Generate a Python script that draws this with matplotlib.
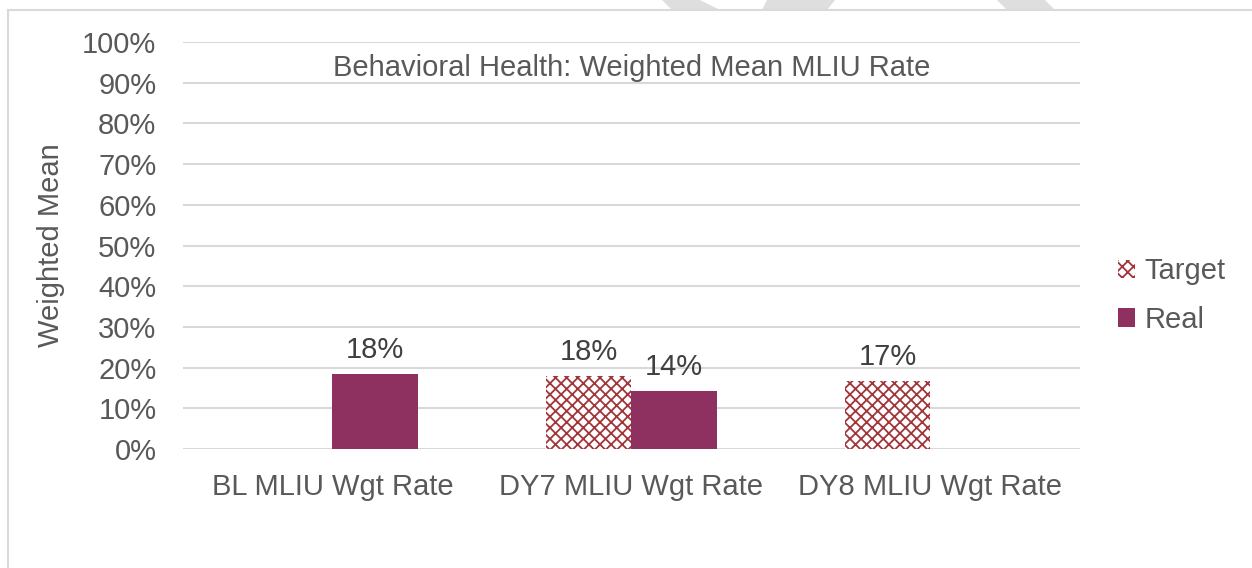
import numpy as np
import matplotlib
matplotlib.use('Agg')
import matplotlib.pyplot as plt
from matplotlib.patches import Polygon, Rectangle, Patch

plt.rcParams['font.family'] = ['Liberation Sans', 'DejaVu Sans']
plt.rcParams['hatch.linewidth'] = 1.3

# data
categories = ['BL MLIU Wgt Rate', 'DY7 MLIU Wgt Rate', 'DY8 MLIU Wgt Rate']
target = [np.nan, 0.18, 0.167]
real = [0.184, 0.143, np.nan]
title = 'Behavioral Health: Weighted Mean MLIU Rate'

real_color = '#8E3060'
hatch_color = '#A0353A'
text_color = '#595959'
grid_color = '#D9D9D9'
fs = 21

fig = plt.figure(figsize=(12.52, 5.68), dpi=100)
ax = fig.add_axes([0.146, 0.2095, 0.7166, 0.7165])

# chart border and faint watermark above it
fig.patches.append(Rectangle((8 / 1252, -0.1), 1.2, 558 / 568 + 0.1,
                             transform=fig.transFigure, fill=False,
                             edgecolor=grid_color, linewidth=1.5))
wm = [[(662, 0), (700, 0), (720, 10), (672, 10)],
      [(767, 0), (835, 0), (827, 10), (762, 10)],
      [(997, 0), (1045, 0), (1055, 10), (1007, 10)]]
for pts in wm:
    fig.patches.append(Polygon([(x / 1252, 1 - y / 568) for x, y in pts],
                               closed=True, transform=fig.transFigure,
                               facecolor='#DEDEDE', edgecolor='none', zorder=0))

x = np.arange(len(categories))
w = 0.285
ax.bar(x - w / 2, target, w, facecolor='white', edgecolor=hatch_color,
       hatch='xxx', linewidth=0, label='Target', zorder=3)
ax.bar(x + w / 2, real, w, color=real_color, label='Real', zorder=3)

for i in range(len(categories)):
    if not np.isnan(target[i]):
        ax.text(x[i] - w / 2, target[i] + 0.025, f'{target[i]:.0%}',
                ha='center', va='bottom', fontsize=fs, color='#404040')
    if not np.isnan(real[i]):
        ax.text(x[i] + w / 2, real[i] + 0.025, f'{real[i]:.0%}',
                ha='center', va='bottom', fontsize=fs, color='#404040')

ax.set_xlim(-0.5, 2.5)
ax.set_ylim(0, 1)
ax.set_yticks(np.arange(0, 1.01, 0.1))
ax.set_yticklabels([f'{v:.0%}' for v in np.arange(0, 1.01, 0.1)])
ax.set_xticks(x)
ax.set_xticklabels(categories)
ax.tick_params(axis='both', length=0, labelsize=fs, colors=text_color)
ax.tick_params(axis='x', pad=17)
ax.tick_params(axis='y', pad=19)
ax.grid(axis='y', color=grid_color, linewidth=1.5, zorder=0)
ax.set_axisbelow(True)
for s in ax.spines.values():
    s.set_visible(False)

ax.set_ylabel('Weighted Mean', fontsize=fs, color=text_color, labelpad=12)
ax.text(0.5, 0.935, title, transform=ax.transAxes, ha='center', va='center',
        fontsize=fs, color=text_color)

handles = [Patch(facecolor='white', edgecolor=hatch_color, hatch='xxx', linewidth=0),
           Patch(facecolor=real_color)]
fig.legend(handles, ['Target', 'Real'], loc='center left',
           bbox_to_anchor=(0.872, 0.48), frameon=False, fontsize=fs,
           labelcolor=text_color, handlelength=0.6, handleheight=0.6,
           handletextpad=0.3, labelspacing=0.7)

fig.savefig('out.png', dpi=100, facecolor='white')
